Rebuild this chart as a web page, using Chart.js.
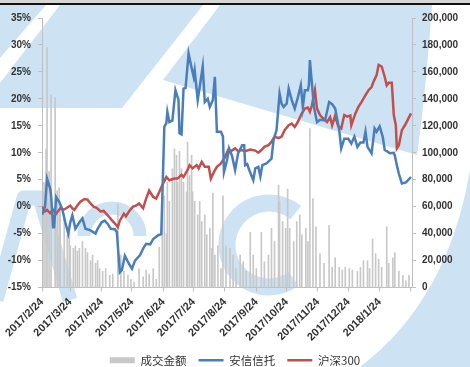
<!DOCTYPE html>
<html>
<head>
  <meta charset="utf-8">
  <title>安信信托 vs 沪深300</title>
  <script src="https://cdn.jsdelivr.net/npm/chart.js"></script>
  <style>
    html, body { margin: 0; padding: 0; background: #fff; }
  </style>
</head>
<body>
  <canvas id="chart" width="470" height="367"></canvas>

  <script>
    // x values are days counted from 2017/2/24
    const tickDays = [0, 28, 59, 89, 120, 150, 181, 212, 242, 273, 303, 334, 365];
    const tickLabels = ['2017/2/24', '2017/3/24', '2017/4/24', '2017/5/24', '2017/6/24', '2017/7/24',
      '2017/8/24', '2017/9/24', '2017/10/24', '2017/11/24', '2017/12/24', '2018/1/24', ''];

    // 成交金额 (right axis)
    const volDays = [2, 4, 5, 7, 9, 13, 15, 17, 18, 22, 25, 27, 28, 31, 33, 35, 37, 40, 43, 45, 48, 50,
      53, 55, 57, 60, 63, 67, 70, 75, 78, 81, 85, 88, 91, 96, 100, 103, 106, 110, 113, 116, 119,
      121, 123, 124, 126, 129, 131, 133, 134, 136, 138, 140, 143, 144, 146, 148, 149, 151, 154, 156, 158,
      161, 163, 166, 168, 169, 171, 174, 177, 179, 182, 186, 189, 192, 196, 199, 202, 206, 209, 212, 217,
      220, 224, 227, 230, 234, 235, 238, 241, 243, 245, 249, 252, 255, 257, 261, 263, 265, 268, 271, 275,
      279, 284, 287, 290, 294, 297, 300, 304, 307, 312, 315, 318, 322, 324, 327, 330, 333, 336, 341, 343,
      347, 349, 353, 357, 360, 363];
    const volValues = [78000, 103000, 178000, 86000, 143000, 141000, 72000, 74000, 63000, 54000, 39000, 44000, 31000, 29000, 31000, 27000, 29000, 34000, 29000, 26000, 20000, 24000,
      18000, 20000, 14000, 12000, 14000, 9000, 10000, 62000, 24000, 12000, 9000, 6000, 4000, 14000, 8000, 13000, 10000, 14000, 6000, 30000, 54000,
      68000, 40000, 78000, 64000, 88000, 103000, 98000, 78000, 101000, 88000, 78000, 71000, 108000, 83000, 98000, 71000, 64000, 54000, 64000, 49000,
      54000, 39000, 44000, 29000, 70000, 24000, 31000, 14000, 68000, 31000, 29000, 24000, 14000, 24000, 19000, 12000, 41000, 24000, 14000, 41000,
      19000, 24000, 44000, 34000, 76000, 64000, 49000, 44000, 73000, 44000, 34000, 49000, 54000, 39000, 44000, 34000, 118000, 66000, 45000, 25000,
      18000, 46000, 15000, 22000, 15000, 13000, 15000, 14000, 13000, 12000, 15000, 20000, 20000, 14000, 36000, 25000, 21000, 15000, 45000, 18000,
      22000, 26000, 12000, 9000, 5000, 9000];

    // 安信信托 (%)
    const axDays = [0, 3, 5, 8, 9, 11, 12, 14, 17, 20, 23, 26, 28, 30, 33, 37, 40, 43, 48, 53,
      55, 59, 62, 65, 68, 72, 74, 77, 79, 82, 86, 89, 92, 97, 100, 103, 107, 110, 115, 118,
      121, 123, 124, 126, 129, 132, 135, 136, 138, 140, 142, 145, 147, 150, 151, 154, 156, 159, 161, 164,
      166, 169, 171, 173, 177, 179, 180, 183, 185, 188, 191, 194, 198, 200, 201, 203, 205, 209, 211, 214,
      216, 218, 222, 227, 229, 232, 235, 237, 239, 242, 244, 247, 250, 253, 256, 258, 260, 263, 264, 265,
      267, 269, 272, 275, 280, 284, 287, 290, 294, 296, 299, 303, 306, 309, 312, 315, 318, 320, 322, 326,
      329, 331, 334, 337, 339, 342, 344, 348, 349, 351, 353, 356, 360, 365];
    const axValues = [-1.5, 0, 5.2, 3.4, 2.1, -3.8, -3.8, 1.8, 0.9, -0.4, -2.9, -5, -2.9, -1.6, -4.1, -2.9, -2.2, -4.1, -4.4, -5,
      -4.1, -2.9, -2.6, -3.2, -4.1, -4.2, -4.7, -12.2, -11.8, -9.1, -10.6, -11.5, -10, -9, -7.8, -6.9, -7, -6, -5.3, -5.1,
      14.8, 15.5, 17.6, 15.7, 16, 21.6, 19.8, 13.6, 13.4, 21.9, 22, 28.4, 26.6, 24.1, 25.3, 19.8, 22.2, 26, 19.4, 20,
      18.5, 19.8, 24.1, 13.9, 13.9, 13, 6.4, 8.6, 10.8, 9.4, 6.8, 9.9, 11.4, 11.4, 7.7, 7.9, 6.8, 4.9, 7.1, 7.4,
      5.6, 7.7, 8, 8.9, 12.3, 14.2, 21, 19.1, 18.5, 19.1, 21.9, 19.8, 18.2, 20.2, 22.5, 18.5, 21.6, 21.6, 22.5, 27.2,
      22.8, 18.5, 15.7, 16.1, 16, 19.4, 19, 18.2, 14.2, 10.8, 12.6, 12.6, 11.7, 13, 11.1, 11.9, 11.9, 13.9, 11.1, 9.9,
      14.5, 13.9, 14.9, 13, 10.5, 10.2, 9.9, 10, 9.5, 7.7, 6.1, 4.3, 4.5, 5.5];

    // 沪深300 (%)
    const hsDays = [0, 3, 5, 8, 11, 14, 18, 21, 24, 28, 30, 32, 35, 38, 42, 45, 48, 51, 54, 58,
      61, 65, 69, 73, 75, 77, 81, 83, 86, 90, 93, 96, 100, 103, 106, 110, 113, 116, 119, 123,
      126, 131, 134, 138, 140, 144, 146, 149, 153, 155, 158, 161, 165, 167, 170, 173, 177, 181, 184, 187,
      191, 194, 197, 201, 206, 211, 214, 217, 220, 224, 227, 230, 234, 237, 240, 244, 247, 250, 253, 257,
      260, 263, 265, 267, 270, 272, 275, 278, 282, 285, 287, 290, 293, 296, 299, 302, 305, 306, 310, 313,
      316, 320, 323, 326, 328, 331, 333, 336, 339, 341, 343, 346, 348, 350, 351, 353, 356, 359, 365];
    const hsValues = [0, -0.9, -0.6, -1.2, -0.6, -1.3, -0.3, -0.6, -0.3, 0.2, -0.3, -0.6, 0.2, 0.9, 1.4, 1.3, 0.6, 0, -0.2, -0.9,
      -0.8, -1.6, -2.5, -3.3, -3.8, -2.6, -1.3, -1.8, -0.9, 0, 0.2, 0.6, -0.3, 1.5, 3.0, 1.8, 1.5, 2.7, 4.0, 5.5,
      4.9, 5.2, 5.2, 5.9, 5.5, 6.8, 7.7, 7.1, 7.7, 7.1, 8.3, 7.4, 7.4, 5.2, 6.4, 7.4, 8, 9.2, 10.5, 10.3,
      10.8, 10.3, 10.5, 10.3, 10.6, 10.4, 10, 10.5, 11.1, 11.4, 12, 13, 12.7, 13, 14.2, 15.1, 15.4, 14.8, 15.7, 17.3,
      18.2, 18.4, 17.6, 18.8, 21.6, 18.2, 17, 16.4, 15.7, 16.6, 15.1, 16.9, 14.9, 14.5, 17, 16.7, 16.9, 15.1, 17.3, 18.5,
      19.4, 20.7, 21.6, 22.2, 23.2, 24.4, 26.3, 26, 24.1, 22.5, 23, 23, 17, 15.1, 10.8, 11.4, 14.2, 15.1, 17.3];

    const pts = (xs, ys) => xs.map((x, i) => ({ x: x, y: ys[i] }));

    // light blue logo watermark behind the chart, plus the dark rule on top
    const backdrop = {
      id: 'backdrop',
      beforeDraw(chart) {
        const c = chart.ctx;
        const blue = '#cde2f3';
        c.save();
        c.fillStyle = '#ffffff';
        c.fillRect(0, 0, chart.width, chart.height);
        c.fillStyle = blue;
        const poly = (p) => {
          c.beginPath();
          c.moveTo(p[0][0], p[0][1]);
          for (let i = 1; i < p.length; i++) c.lineTo(p[i][0], p[i][1]);
          c.closePath();
          c.fill();
        };
        poly([[0, 5], [46, 5], [0, 58]]);
        poly([[60, 5], [203, 5], [122, 108], [0, 108], [0, 83]]);
        c.beginPath();
        c.moveTo(220, 5); c.lineTo(432, 5);
        c.quadraticCurveTo(426, 90, 417, 155);
        c.lineTo(163, 80);
        c.closePath(); c.fill();
        c.beginPath();
        c.moveTo(470, 170);
        c.quadraticCurveTo(448, 300, 360, 367);
        c.lineTo(470, 367);
        c.closePath(); c.fill();

        c.strokeStyle = blue;
        c.lineJoin = 'round';
        c.lineWidth = 17;
        c.beginPath(); c.arc(269, 245, 42, -0.28 * Math.PI, 0.3 * Math.PI, true); c.stroke();
        c.lineWidth = 15;
        c.beginPath(); c.moveTo(-4, 300); c.lineTo(24, 198); c.lineTo(40, 198); c.lineTo(70, 300); c.stroke();
        c.lineWidth = 13;
        c.beginPath(); c.arc(112, 236, 28, Math.PI, 2 * Math.PI); c.stroke();
        c.restore();
      },
      afterDraw(chart) {
        const c = chart.ctx;
        c.save();
        c.fillStyle = '#d6d6d6';
        c.fillRect(0, 0, chart.width, 3);
        c.fillStyle = '#111111';
        c.fillRect(0, 3, chart.width, 2);
        c.restore();
      }
    };

    const tickFont = { family: 'Liberation Sans', size: 10, weight: 'bold' };

    const ctx = document.getElementById('chart').getContext('2d');
    const chart = new Chart(ctx, {
      type: 'line',
      data: {
        datasets: [
          {
            type: 'bar',
            label: '成交金额',
            data: pts(volDays, volValues),
            yAxisID: 'y1',
            backgroundColor: '#c8c8c8',
            barThickness: 1,
            pointStyle: 'rect',
            order: 2
          },
          {
            label: '安信信托',
            data: pts(axDays, axValues),
            yAxisID: 'y',
            borderColor: '#4a7ebb',
            backgroundColor: '#4a7ebb',
            borderWidth: 2.5,
            pointRadius: 0,
            pointBorderWidth: 2.5,
            pointStyle: 'line',
            tension: 0,
            order: 1
          },
          {
            label: '沪深300',
            data: pts(hsDays, hsValues),
            yAxisID: 'y',
            borderColor: '#c0504d',
            backgroundColor: '#c0504d',
            borderWidth: 2.5,
            pointRadius: 0,
            pointBorderWidth: 2.5,
            pointStyle: 'line',
            tension: 0,
            order: 1
          }
        ]
      },
      options: {
        responsive: false,
        animation: false,
        devicePixelRatio: 1,
        layout: { padding: { top: 18, left: 0, right: 0, bottom: -9 } },
        plugins: {
          tooltip: { enabled: false },
          legend: {
            position: 'bottom',
            labels: {
              usePointStyle: true,
              pointStyleWidth: 25,
              boxHeight: 6,
              padding: 12,
              color: '#333',
              font: { family: 'Noto Sans CJK SC', size: 11.5 },
              sort: (a, b) => a.datasetIndex - b.datasetIndex
            }
          }
        },
        scales: {
          x: {
            type: 'linear',
            min: 0,
            max: 366,
            offset: false,
            afterBuildTicks: s => { s.ticks = tickDays.map(v => ({ value: v })); },
            afterFit: s => { s.height = 55; },
            ticks: {
              autoSkip: false,
              minRotation: 45,
              maxRotation: 45,
              padding: 4,
              color: '#333',
              font: { family: 'Liberation Sans', size: 11, weight: 'bold' },
              callback: v => tickLabels[tickDays.indexOf(v)]
            },
            grid: { drawOnChartArea: false, color: '#bfbfbf', tickLength: 4, offset: false },
            border: { color: '#bfbfbf' }
          },
          y: {
            position: 'left',
            min: -15,
            max: 35,
            afterFit: s => { s.width = 42; },
            ticks: { stepSize: 5, padding: 7, color: '#333', font: tickFont, callback: v => v + '%' },
            grid: { drawOnChartArea: false, color: '#bfbfbf', tickLength: 4 },
            border: { color: '#bfbfbf' }
          },
          y1: {
            position: 'right',
            min: 0,
            max: 200000,
            afterFit: s => { s.width = 58; },
            ticks: { stepSize: 20000, padding: 6, color: '#333', font: tickFont },
            grid: { drawOnChartArea: false, color: '#bfbfbf', tickLength: 4 },
            border: { color: '#bfbfbf' }
          }
        }
      },
      plugins: [backdrop]
    });
  </script>
</body>
</html>
